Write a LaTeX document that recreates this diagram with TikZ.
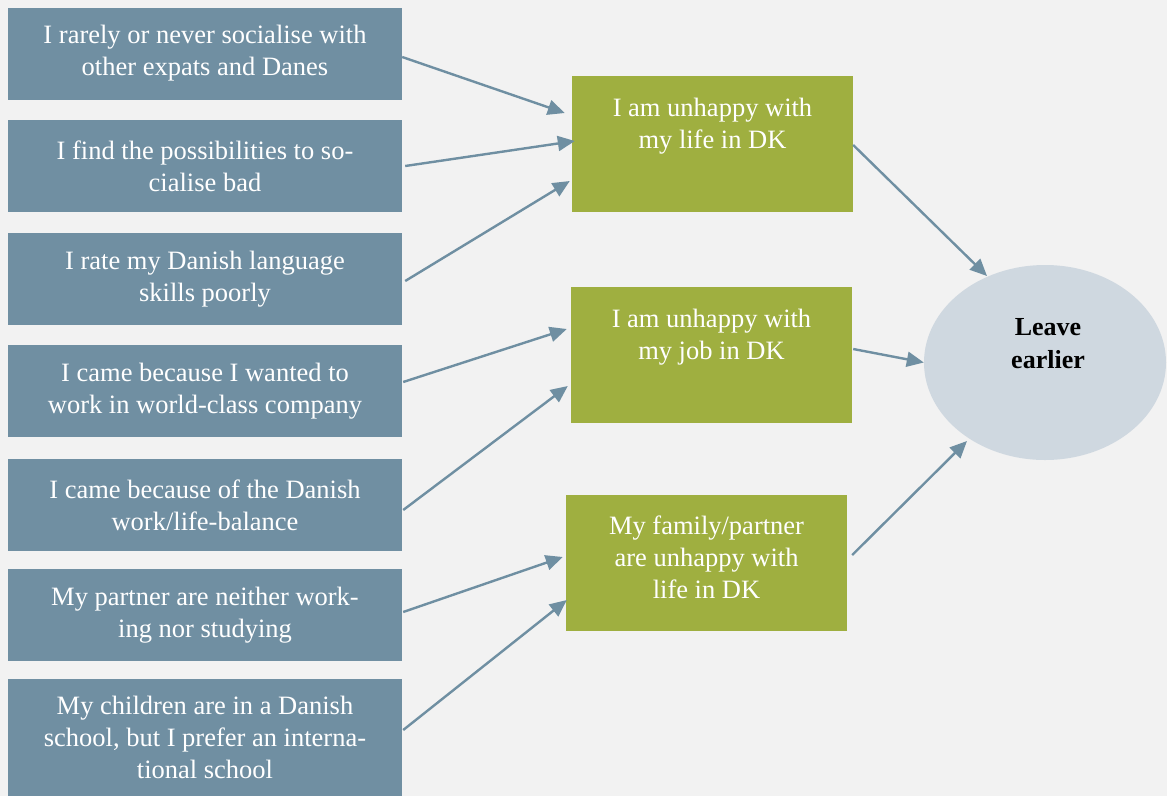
\documentclass[tikz,border=0pt]{standalone}
\usepackage{fontspec}
\setmainfont{Liberation Serif}
\usetikzlibrary{arrows.meta,shapes.geometric}
\definecolor{bg}{HTML}{F2F2F2}
\definecolor{bluebox}{HTML}{708FA2}
\definecolor{greenbox}{HTML}{9FAF40}
\definecolor{ellfill}{HTML}{CFD8E0}
\definecolor{arrowc}{HTML}{6F8FA2}
\tikzset{
  leftbox/.style={fill=bluebox, text=white, draw=none, minimum width=394pt, align=center, inner sep=0pt, font=\fontsize{26.5}{32}\selectfont},
  midbox/.style={fill=greenbox, draw=none, inner sep=0pt},
  midtext/.style={text=white, align=center, inner sep=0pt, font=\fontsize{26.5}{32}\selectfont},
  conn/.style={draw=arrowc, line width=2.4pt, -{Triangle[length=17pt,width=15pt]}},
}
\begin{document}
\begin{tikzpicture}[x=1pt,y=-1pt]
\fill[bg] (0,0) rectangle (1167,796);
\useasboundingbox (0,0) rectangle (1167,796);

\node[leftbox, minimum height=92pt] (l1) at (205,53.5) {I rarely or never socialise with\\other expats and Danes};
\node[leftbox, minimum height=92pt] (l2) at (205,166) {I find the possibilities to so-\\cialise bad};
\node[leftbox, minimum height=92pt] (l3) at (205,279) {I rate my Danish language\\skills poorly};
\node[leftbox, minimum height=92pt] (l4) at (205,391) {I came because I wanted to\\work in world-class company};
\node[leftbox, minimum height=92pt] (l5) at (205,505) {I came because of the Danish\\work/life-balance};
\node[leftbox, minimum height=92pt] (l6) at (205,615) {My partner are neither work-\\ing nor studying};
\node[leftbox, minimum height=117pt] (l7) at (205,737.5) {My children are in a Danish\\school, but I prefer an interna-\\tional school};

\node[midbox, minimum width=281pt, minimum height=136pt] (m1) at (712.5,144) {};
\node[midtext] (t1) at (712.5,126) {I am unhappy with\\my life in DK};
\node[midbox, minimum width=281pt, minimum height=136pt] (m2) at (711.5,355) {};
\node[midtext] (t2) at (711.5,337) {I am unhappy with\\my job in DK};
\node[midbox, minimum width=281pt, minimum height=136pt] (m3) at (706.5,563) {};
\node[midtext] (t3) at (706.5,557) {My family/partner\\are unhappy with\\life in DK};

\node[ellipse, fill=ellfill, draw=none, minimum width=242pt, minimum height=195pt, inner sep=0pt] (e) at (1045,362.5) {};
\node[text=black, align=center, inner sep=0pt, font=\fontsize{26}{33}\selectfont\bfseries] (et) at (1048,344) {Leave\\earlier};

\draw[conn] ([yshift=-3.5pt]l1.east) -- ([xshift=-7pt,yshift=31pt]m1.west);
\draw[conn] ([xshift=3pt]l2.east) -- ([xshift=3pt,yshift=3pt]m1.west);
\draw[conn] ([xshift=3pt,yshift=-2pt]l3.east) -- ([xshift=-2pt,yshift=-37pt]m1.west);
\draw[conn] ([xshift=1pt,yshift=9pt]l4.east) -- ([xshift=-4pt,yshift=26pt]m2.west);
\draw[conn] ([xshift=1pt,yshift=-5pt]l5.east) -- ([xshift=-3pt,yshift=-31pt]m2.west);
\draw[conn] ([xshift=1pt,yshift=3pt]l6.east) -- ([xshift=-3pt,yshift=6pt]m3.west);
\draw[conn] ([xshift=1pt,yshift=7.5pt]l7.east) -- ([xshift=1pt,yshift=-37pt]m3.west);

\draw[conn] ([yshift=-1pt]m1.east) -- (987,276);
\draw[conn] ([xshift=1pt,yshift=6pt]m2.east) -- (e.west);
\draw[conn] ([xshift=5pt,yshift=8pt]m3.east) -- (967,441);
\end{tikzpicture}
\end{document}
